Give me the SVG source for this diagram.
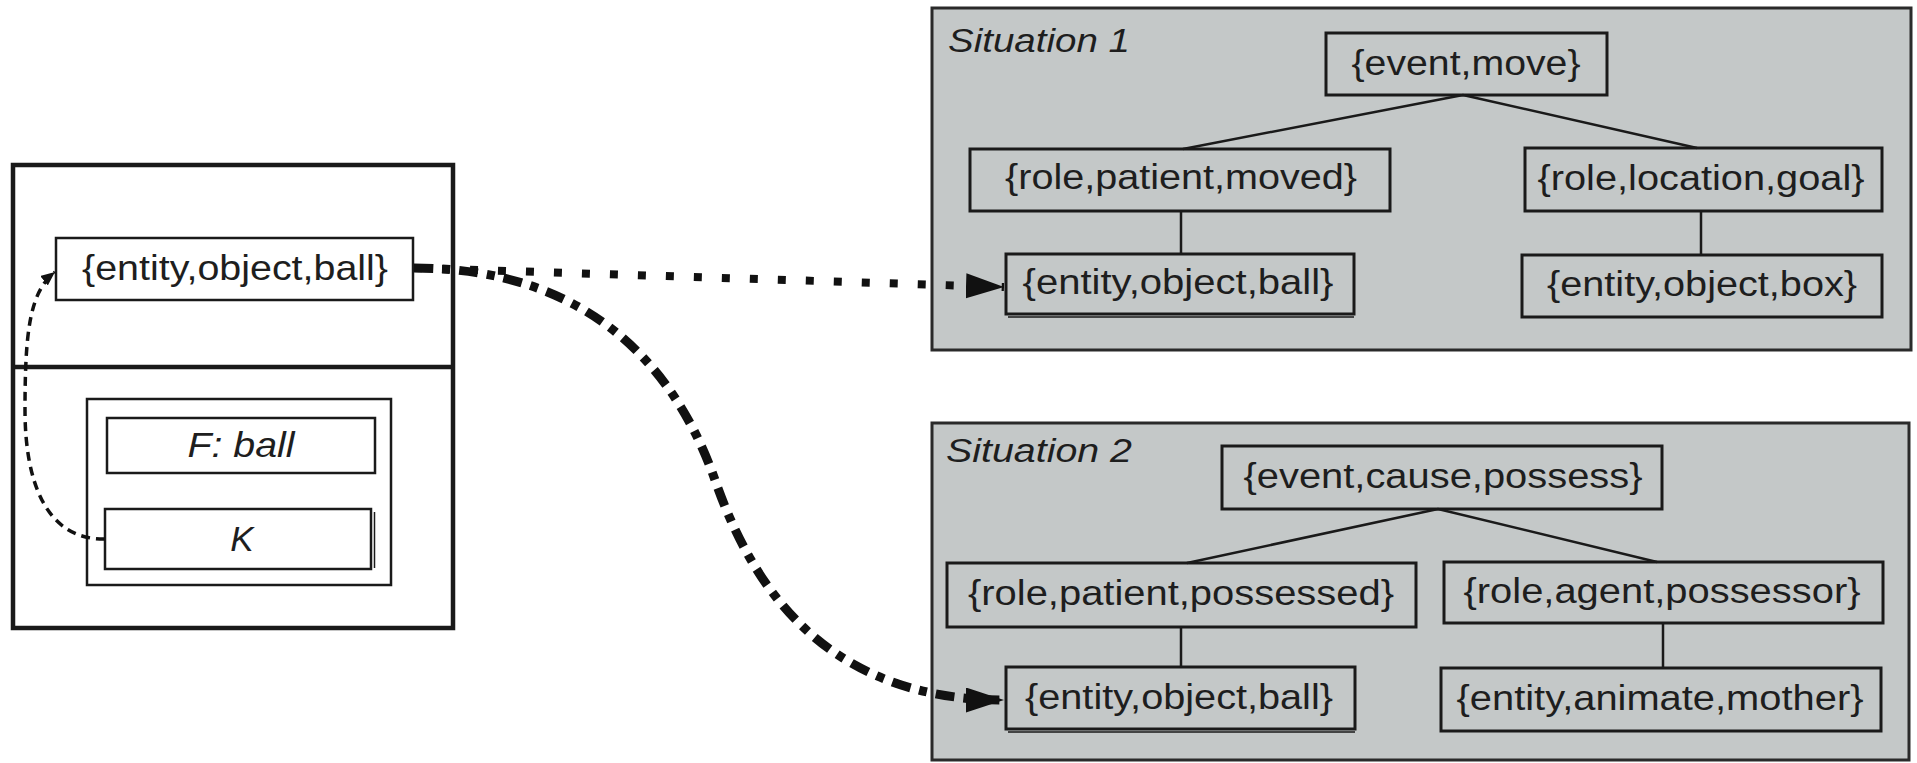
<svg xmlns="http://www.w3.org/2000/svg" width="1917" height="763" viewBox="0 0 1917 763">
<style>
.t{font-family:"Liberation Sans",Arial,sans-serif;font-size:35px;fill:#1e1e1e;text-anchor:middle}
.it{font-style:italic}
.lbl{font-family:"Liberation Sans",Arial,sans-serif;font-size:33px;font-style:italic;fill:#1e1e1e}
.box{fill:none;stroke:#1a1a1a;stroke-width:3}
.wbox{fill:#fff;stroke:#1a1a1a;stroke-width:2.5}
.panel{fill:#c4c8c8;stroke:#2a2a2a;stroke-width:3}
.tree{stroke:#1a1a1a;stroke-width:2.5;fill:none}
.dot{fill:none;stroke:#111;stroke-width:8;stroke-dasharray:8 20}
.dashdot{fill:none;stroke:#111;stroke-width:9;stroke-dasharray:19 9 8 9}
.small{fill:none;stroke:#111;stroke-width:3.5;stroke-dasharray:9 6}
</style>
<defs>
<marker id="big" markerUnits="userSpaceOnUse" markerWidth="40" markerHeight="26" refX="38" refY="12.5" orient="auto">
<path d="M0,0 L38,12.5 L0,25 Z" fill="#111"/>
</marker>
<marker id="sm" markerUnits="userSpaceOnUse" markerWidth="16" markerHeight="14" refX="14" refY="6" orient="auto">
<path d="M0,0 L14,6 L0,12 Z" fill="#111"/>
</marker>
</defs>
<rect width="1917" height="763" fill="#fff"/>

<g id="memory">
<rect x="13" y="165" width="440" height="463" fill="#fff" stroke="#1a1a1a" stroke-width="4.5"/>
<line x1="13" y1="367" x2="453" y2="367" stroke="#1a1a1a" stroke-width="4.5"/>
</g>
<g id="entity-left">
<rect class="wbox" x="56" y="238" width="357" height="62"/>
<text class="t" x="235" y="280" textLength="306" lengthAdjust="spacingAndGlyphs">{entity,object,ball}</text>
</g>
<g id="container">
<rect x="87" y="399" width="304" height="186" fill="#fff" stroke="#1a1a1a" stroke-width="2.5"/>
</g>
<g id="f-ball">
<rect class="wbox" x="107" y="418" width="268" height="55"/>
<text class="t it" x="241" y="457" textLength="107" lengthAdjust="spacingAndGlyphs">F: ball</text>
</g>
<g id="k">
<rect class="wbox" x="105" y="509" width="266" height="60"/>
<line x1="374.5" y1="512" x2="374.5" y2="568" stroke="#1a1a1a" stroke-width="1.5"/>
<text class="t it" x="242" y="551">K</text>
</g>

<g id="situation1">
<rect class="panel" x="932" y="8" width="979" height="342"/>
<text class="lbl" x="948" y="52" textLength="182" lengthAdjust="spacingAndGlyphs">Situation 1</text>
</g>
<g id="s1-event">
<rect class="box" x="1326" y="33" width="281" height="62"/>
<text class="t" x="1466" y="75" textLength="229" lengthAdjust="spacingAndGlyphs">{event,move}</text>
</g>
<g id="s1-patient">
<rect class="box" x="970" y="149" width="420" height="62"/>
<text class="t" x="1181" y="189" textLength="352" lengthAdjust="spacingAndGlyphs">{role,patient,moved}</text>
</g>
<g id="s1-goal">
<rect class="box" x="1525" y="148" width="357" height="63" stroke-width="3.5"/>
<text class="t" x="1701" y="190" textLength="327" lengthAdjust="spacingAndGlyphs">{role,location,goal}</text>
</g>
<g id="s1-ball">
<rect class="box" x="1006" y="254" width="348" height="60"/>
<line x1="1008" y1="317" x2="1354" y2="317" stroke="#1a1a1a" stroke-width="1.5"/>
<text class="t" x="1178" y="294" textLength="311" lengthAdjust="spacingAndGlyphs">{entity,object,ball}</text>
</g>
<g id="s1-box">
<rect class="box" x="1522" y="255" width="360" height="62"/>
<text class="t" x="1702" y="296" textLength="310" lengthAdjust="spacingAndGlyphs">{entity,object,box}</text>
</g>

<g id="situation2">
<rect class="panel" x="932" y="423" width="977" height="337"/>
<text class="lbl" x="946" y="462" textLength="186" lengthAdjust="spacingAndGlyphs">Situation 2</text>
</g>
<g id="s2-event">
<rect class="box" x="1222" y="446" width="440" height="63"/>
<text class="t" x="1443" y="488" textLength="399" lengthAdjust="spacingAndGlyphs">{event,cause,possess}</text>
</g>
<g id="s2-patient">
<rect class="box" x="947" y="563" width="469" height="64"/>
<text class="t" x="1181" y="605" textLength="426" lengthAdjust="spacingAndGlyphs">{role,patient,possessed}</text>
</g>
<g id="s2-agent">
<rect class="box" x="1444" y="562" width="439" height="61"/>
<text class="t" x="1662" y="603" textLength="397" lengthAdjust="spacingAndGlyphs">{role,agent,possessor}</text>
</g>
<g id="s2-ball">
<rect class="box" x="1006" y="667" width="349" height="62"/>
<line x1="1008" y1="732" x2="1355" y2="732" stroke="#1a1a1a" stroke-width="1.5"/>
<text class="t" x="1179" y="709" textLength="308" lengthAdjust="spacingAndGlyphs">{entity,object,ball}</text>
</g>
<g id="s2-mother">
<rect class="box" x="1441" y="668" width="440" height="63"/>
<text class="t" x="1660" y="710" textLength="407" lengthAdjust="spacingAndGlyphs">{entity,animate,mother}</text>
</g>

<g id="connectors">
<path class="tree" d="M1463,95 L1183,149 M1463,95 L1697,148 M1181,211 L1181,254 M1701,211 L1701,255"/>
<path class="tree" d="M1438,509 L1187,563 M1438,509 L1657,562 M1181,627 L1181,667 M1663,623 L1663,668"/>
<path class="small" d="M105,539 C45,540 25,480 25,410 C25,330 30,292 55,272" marker-end="url(#sm)"/>
<path class="dot" d="M414,268 L1004,287" marker-end="url(#big)"/>
<path class="dashdot" d="M414,268 C600,268 680,380 715,480 S820,700 1004,700" marker-end="url(#big)"/>
</g>
</svg>
